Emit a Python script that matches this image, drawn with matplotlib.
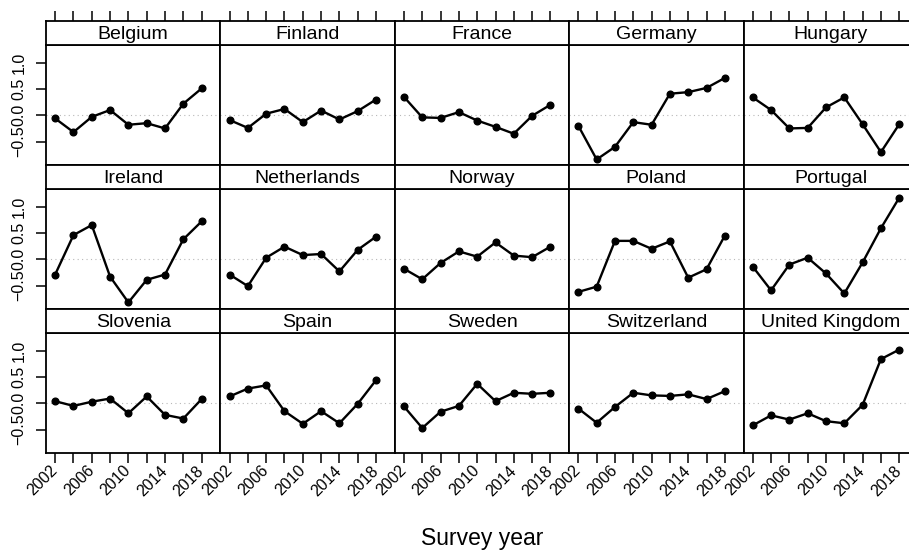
import numpy as np
import matplotlib
matplotlib.use("Agg")
import matplotlib.pyplot as plt

plt.rcParams['font.family'] = ['Liberation Sans', 'DejaVu Sans']

years = [2002, 2004, 2006, 2008, 2010, 2012, 2014, 2016, 2018]

countries = ['Belgium', 'Finland', 'France', 'Germany', 'Hungary',
             'Ireland', 'Netherlands', 'Norway', 'Poland', 'Portugal',
             'Slovenia', 'Spain', 'Sweden', 'Switzerland', 'United Kingdom']

belgium = [-0.06, -0.32, -0.03, 0.10, -0.18, -0.15, -0.25, 0.22, 0.51]
finland = [-0.09, -0.24, 0.03, 0.12, -0.13, 0.09, -0.08, 0.08, 0.30]
france = [0.35, -0.04, -0.05, 0.06, -0.10, -0.22, -0.35, -0.01, 0.20]
germany = [-0.20, -0.84, -0.60, -0.13, -0.18, 0.41, 0.44, 0.52, 0.71]
hungary = [0.34, 0.10, -0.25, -0.24, 0.15, 0.34, -0.17, -0.70, -0.17]
ireland = [-0.29, 0.46, 0.65, -0.33, -0.82, -0.39, -0.29, 0.38, 0.72]
netherlands = [-0.29, -0.51, 0.03, 0.24, 0.08, 0.10, -0.23, 0.18, 0.43]
norway = [-0.18, -0.38, -0.07, 0.15, 0.05, 0.32, 0.07, 0.04, 0.24]
poland = [-0.62, -0.52, 0.35, 0.35, 0.20, 0.34, -0.35, -0.19, 0.45]
portugal = [-0.14, -0.59, -0.10, 0.03, -0.27, -0.65, -0.06, 0.59, 1.17]
slovenia = [0.04, -0.05, 0.03, 0.09, -0.19, 0.13, -0.22, -0.29, 0.08]
spain = [0.13, 0.28, 0.34, -0.15, -0.39, -0.15, -0.38, -0.01, 0.44]
sweden = [-0.06, -0.47, -0.16, -0.05, 0.37, 0.04, 0.20, 0.18, 0.20]
switzerland = [-0.10, -0.37, -0.07, 0.20, 0.15, 0.14, 0.17, 0.08, 0.23]
uk = [-0.42, -0.23, -0.31, -0.19, -0.34, -0.38, -0.03, 0.84, 1.02]

series = [belgium, finland, france, germany, hungary,
          ireland, netherlands, norway, poland, portugal,
          slovenia, spain, sweden, switzerland, uk]

yticks = [-0.5, 0.0, 0.5, 1.0]
ytick_labels = ['\u22120.5', '0.0', '0.5', '1.0']

W, H = 909, 552
fig = plt.figure(figsize=(W / 100, H / 100), dpi=100)

# panel geometry in pixels
left0, pw = 46, 174.4
ph, sh = 120, 24
panel_tops = [45, 189, 333]

xlim = (2001.0, 2020.05)
ylim = (-0.945, 1.336)
lw_frame = 1.3

for k, (name, vals) in enumerate(zip(countries, series)):
    row, col = divmod(k, 5)
    x0 = left0 + col * pw
    top = panel_tops[row]

    ax = fig.add_axes([x0 / W, 1 - (top + ph) / H, pw / W, ph / H])
    st = fig.add_axes([x0 / W, 1 - top / H, pw / W, sh / H])

    ax.axhline(0, color='#b8b8b8', lw=0.8, ls=(0, (1, 3)), zorder=1)
    ax.plot(years, vals, color='black', lw=1.7, marker='o', ms=4.8, zorder=3)
    ax.set_xlim(*xlim)
    ax.set_ylim(*ylim)
    for s in ax.spines.values():
        s.set_linewidth(lw_frame)

    # x axis: ticks only on bottom row
    ax.set_xticks(years)
    if row == 2:
        ax.set_xticklabels([str(y) if (y - 2002) % 4 == 0 else '' for y in years],
                           rotation=45, ha='right', va='center',
                           rotation_mode='anchor', fontsize=11.5)
        ax.tick_params(axis='x', direction='out', length=7, width=1.1, pad=4)
    else:
        ax.tick_params(axis='x', length=0, labelbottom=False)

    # y axis: ticks only on left column
    ax.set_yticks(yticks)
    if col == 0:
        ax.set_yticklabels(ytick_labels, rotation=90, va='center', fontsize=11.5)
        ax.tick_params(axis='y', direction='out', length=7, width=1.1, pad=7)
    else:
        ax.tick_params(axis='y', length=0, labelleft=False)

    # strip
    st.set_xlim(*xlim)
    st.set_ylim(0, 1)
    st.set_yticks([])
    for s in st.spines.values():
        s.set_linewidth(lw_frame)
    if row == 0:
        st.set_xticks(years)
        st.tick_params(axis='x', bottom=False, labelbottom=False,
                       top=True, labeltop=False, direction='out',
                       length=7, width=1.1)
    else:
        st.set_xticks([])
    st.text(0.5, 0.45, name, transform=st.transAxes, ha='center',
            va='center', fontsize=14)

fig.text((left0 + 2.5 * pw) / W, 1 - 538 / H, 'Survey year',
         ha='center', va='center', fontsize=16.5)

fig.savefig('out.png', dpi=100)
